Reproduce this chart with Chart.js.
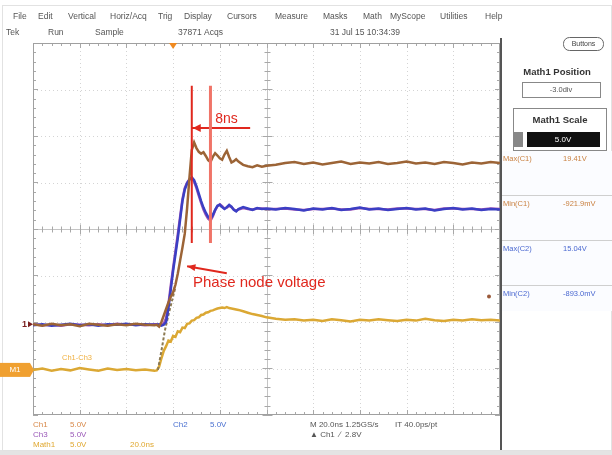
<!DOCTYPE html>
<html>
<head>
<meta charset="utf-8">
<script src="https://cdn.jsdelivr.net/npm/chart.js@4.4.0/dist/chart.umd.min.js"></script>
<style>
  html, body { margin: 0; padding: 0; background: #fff; overflow: hidden; }
</style>
</head>
<body>
<canvas id="scope" width="612" height="455"></canvas>
<script>
// Scope capture: 20 ns/div horizontally, values in divisions vertically

var timeNs = [0, 4, 8, 12, 16, 20, 24, 28, 32, 36, 40, 44, 48, 52,
  53, 54, 55, 56, 57, 58, 59, 60, 61, 62, 63, 64, 65, 66, 67, 68, 69, 70,
  71, 72, 73, 74, 75, 76, 77, 78, 79, 80, 81, 82, 83, 84, 85, 86, 87, 88,
  90, 92, 94, 96, 98, 100,
  104, 108, 112, 116, 120, 124, 128, 132, 136, 140, 144, 148, 152, 156,
  160, 164, 168, 172, 176, 180, 184, 188, 192, 196, 200];

var ch1Div = [-2.05, -2.08, -2.04, -2.07, -2.05, -2.09, -2.04, -2.06, -2.08, -2.05, -2.07, -2.04, -2.06, -2.07,
  -2.06, -2.10, -2.00, -1.86, -1.72, -1.58, -1.46, -1.36, -1.20, -0.96, -0.68, -0.40, -0.10, 0.45, 1.10, 1.70, 1.86, 1.74,
  1.66, 1.62, 1.65, 1.57, 1.48, 1.44, 1.55, 1.63, 1.58, 1.52, 1.49, 1.60, 1.68, 1.55, 1.43, 1.46, 1.50, 1.45,
  1.38, 1.35, 1.33, 1.37, 1.34, 1.36,
  1.38, 1.42, 1.44, 1.40, 1.43, 1.39, 1.42, 1.45, 1.40, 1.43, 1.41, 1.44, 1.40, 1.42,
  1.45, 1.41, 1.43, 1.40, 1.44, 1.42, 1.39, 1.43, 1.41, 1.44, 1.42];

var ch2Div = [-2.07, -2.05, -2.08, -2.06, -2.04, -2.07, -2.05, -2.08, -2.05, -2.06, -2.04, -2.07, -2.05, -2.06,
  -2.06, -2.05, -2.08, -2.06, -2.00, -1.70, -1.30, -0.90, -0.55, -0.20, 0.20, 0.60, 0.85, 0.98, 1.06, 1.11, 1.05, 0.92,
  0.76, 0.60, 0.46, 0.35, 0.26, 0.22, 0.30, 0.41, 0.50, 0.52, 0.47, 0.43, 0.47, 0.52, 0.48, 0.41, 0.38, 0.43,
  0.47, 0.44, 0.41, 0.45, 0.43, 0.44,
  0.42, 0.45, 0.43, 0.40, 0.44, 0.42, 0.45, 0.41, 0.43, 0.46, 0.42, 0.44, 0.41, 0.43,
  0.45, 0.42, 0.44, 0.40, 0.43, 0.45, 0.42, 0.44, 0.41, 0.43, 0.42];

var ch3Div = [-2.05, -2.07, -2.06, -2.08, -2.05, -2.06, -2.07, -2.05, -2.07, -2.04, -2.06, -2.05, -2.07, -2.05,
  -2.05, -2.07, -2.06, -2.03, -1.92, -1.62, -1.22, -0.84, -0.48, -0.12, 0.26, 0.64, 0.88, 1.00, 1.07, 1.10, 1.02, 0.88,
  0.72, 0.56, 0.42, 0.31, 0.22, 0.18, 0.27, 0.40, 0.49, 0.53, 0.49, 0.44, 0.46, 0.50, 0.47, 0.42, 0.39, 0.42,
  0.45, 0.43, 0.42, 0.44, 0.44, 0.43,
  0.43, 0.44, 0.42, 0.41, 0.43, 0.43, 0.44, 0.42, 0.42, 0.45, 0.43, 0.43, 0.42, 0.44,
  0.44, 0.43, 0.43, 0.41, 0.44, 0.44, 0.43, 0.43, 0.42, 0.44, 0.43];

var math1Div = [-3.03, -3.00, -3.05, -3.01, -3.04, -2.99, -3.02, -3.05, -3.00, -3.03, -3.01, -3.04, -3.02, -3.05,
  -3.04, -2.96, -2.78, -2.62, -2.52, -2.40, -2.42, -2.30, -2.32, -2.20, -2.22, -2.12, -2.13, -2.04, -2.03, -1.97, -1.96, -1.91,
  -1.90, -1.85, -1.84, -1.80, -1.79, -1.76, -1.75, -1.73, -1.71, -1.70, -1.69, -1.70, -1.68, -1.70, -1.71, -1.72, -1.73, -1.74,
  -1.77, -1.80, -1.83, -1.85, -1.87, -1.90,
  -1.93, -1.95, -1.94, -1.97, -1.95, -1.98, -1.94, -1.96, -1.99, -1.95, -1.97, -1.94, -1.96, -1.98,
  -1.95, -1.97, -1.93, -1.96, -1.98, -1.95, -1.97, -1.94, -1.96, -1.95, -1.97];

// dashed rising edge seen under the Ch1 trace
var edgeTimeNs = [53.5, 55, 56.5, 58, 59.5, 61];
var edgeDiv = [-3.03, -2.62, -2.18, -1.85, -1.55, -1.25];

// cursors and annotations
var cursorNs = [68, 76];
var cursorSpanDiv = [3.08, -0.30];
var deltaBarDiv = 2.17;
var deltaBarNs = [68, 93];
var deltaLabel = '8ns';
var phaseArrowNs = [83, 66];
var phaseArrowDiv = [-0.95, -0.80];
var phaseLabel = 'Phase node voltage';
var triggerNs = 60;

var menuItems = [['File', 13], ['Edit', 38], ['Vertical', 68], ['Horiz/Acq', 110], ['Trig', 158], ['Display', 184],
  ['Cursors', 227], ['Measure', 275], ['Masks', 323], ['Math', 363], ['MyScope', 390], ['Utilities', 440], ['Help', 485]];
var statusItems = [['Tek', 6], ['Run', 48], ['Sample', 95], ['37871 Acqs', 178], ['31 Jul 15 10:34:39', 330]];
var readouts = [['Max(C1)', '19.41V', '#c98040'], ['Min(C1)', '-921.9mV', '#c98040'],
  ['Max(C2)', '15.04V', '#4a68d0'], ['Min(C2)', '-893.0mV', '#4a68d0']];

function pts(xs, ys) {
  return xs.map(function (x, i) { return { x: x, y: ys[i] }; });
}

var FONT = "'Liberation Sans', Arial, sans-serif";

function txt(ctx, s, x, y, color, size, weight, align) {
  ctx.font = (weight || 'normal') + ' ' + size + 'px ' + FONT;
  ctx.fillStyle = color;
  ctx.textAlign = align || 'left';
  ctx.textBaseline = 'middle';
  ctx.fillText(s, x, y);
}

function roundRect(ctx, x, y, w, h, r) {
  ctx.beginPath();
  ctx.moveTo(x + r, y);
  ctx.arcTo(x + w, y, x + w, y + h, r);
  ctx.arcTo(x + w, y + h, x, y + h, r);
  ctx.arcTo(x, y + h, x, y, r);
  ctx.arcTo(x, y, x + w, y, r);
  ctx.closePath();
}

var scopeFrame = {
  id: 'scopeFrame',
  beforeDraw: function (chart) {
    var ctx = chart.ctx, a = chart.chartArea;
    var xs = chart.scales.x, ys = chart.scales.y;
    ctx.save();
    ctx.fillStyle = '#fff';
    ctx.fillRect(0, 0, chart.width, chart.height);

    // outer frame
    ctx.fillStyle = '#e4e4e4';
    ctx.fillRect(0, 450, 612, 5);
    ctx.strokeStyle = '#e2e2e2';
    ctx.lineWidth = 1;
    ctx.strokeRect(2.5, 5.5, 609, 445);

    // menu + status rows
    menuItems.forEach(function (m) { txt(ctx, m[0], m[1], 17, '#555', 8.5); });
    statusItems.forEach(function (m) { txt(ctx, m[0], m[1], 33, '#555', 8.5); });

    // dotted graticule
    ctx.strokeStyle = '#d4d4d4';
    ctx.setLineDash([1, 3]);
    for (var t = 20; t < 200; t += 20) {
      if (t === 100) continue;
      var px = Math.round(xs.getPixelForValue(t)) + 0.5;
      ctx.beginPath(); ctx.moveTo(px, a.top); ctx.lineTo(px, a.bottom); ctx.stroke();
    }
    for (var v = -3; v <= 3; v++) {
      if (v === 0) continue;
      var py = Math.round(ys.getPixelForValue(v)) + 0.5;
      ctx.beginPath(); ctx.moveTo(a.left, py); ctx.lineTo(a.right, py); ctx.stroke();
    }
    ctx.setLineDash([]);

    // center cross with minor ticks
    var cx = Math.round(xs.getPixelForValue(100)) + 0.5;
    var cy = Math.round(ys.getPixelForValue(0)) + 0.5;
    ctx.strokeStyle = '#c4c4c4';
    ctx.beginPath();
    ctx.moveTo(a.left, cy); ctx.lineTo(a.right, cy);
    ctx.moveTo(cx, a.top); ctx.lineTo(cx, a.bottom);
    ctx.stroke();
    ctx.strokeStyle = '#a8a8a8';
    ctx.beginPath();
    for (var tm = 0; tm <= 200; tm += 4) {
      var mx = Math.round(xs.getPixelForValue(tm)) + 0.5;
      var big = tm % 20 === 0 ? 5 : 3;
      ctx.moveTo(mx, cy - big); ctx.lineTo(mx, cy + big);
      ctx.moveTo(mx, a.bottom); ctx.lineTo(mx, a.bottom - big);
      ctx.moveTo(mx, a.top); ctx.lineTo(mx, a.top + big);
    }
    for (var vm = -4; vm <= 4.001; vm += 0.2) {
      var my = Math.round(ys.getPixelForValue(vm)) + 0.5;
      var bg = Math.abs(vm - Math.round(vm)) < 0.01 ? 5 : 3;
      ctx.moveTo(cx - bg, my); ctx.lineTo(cx + bg, my);
      ctx.moveTo(a.left, my); ctx.lineTo(a.left + bg, my);
      ctx.moveTo(a.right, my); ctx.lineTo(a.right - bg, my);
    }
    ctx.stroke();
    ctx.strokeStyle = '#a0a0a0';
    ctx.strokeRect(a.left + 0.5, a.top + 0.5, a.right - a.left - 1, a.bottom - a.top - 1);

    // trigger position marker
    var trx = xs.getPixelForValue(triggerNs);
    ctx.fillStyle = '#f08a20';
    ctx.beginPath();
    ctx.moveTo(trx - 4, a.top); ctx.lineTo(trx + 4, a.top); ctx.lineTo(trx, a.top + 6);
    ctx.closePath(); ctx.fill();

    // ground markers on the left
    var g1 = ys.getPixelForValue(ch1Div[0]);
    txt(ctx, '1', 22, g1, '#7a2020', 9, 'bold');
    ctx.fillStyle = '#7a2020';
    ctx.beginPath(); ctx.moveTo(28, g1 - 3); ctx.lineTo(33, g1); ctx.lineTo(28, g1 + 3); ctx.fill();
    var gm = ys.getPixelForValue(math1Div[0]);
    ctx.fillStyle = '#f0a030';
    ctx.fillRect(0, gm - 7, 30, 14);
    ctx.beginPath(); ctx.moveTo(30, gm - 7); ctx.lineTo(34, gm); ctx.lineTo(30, gm + 7); ctx.fill();
    txt(ctx, 'M1', 15, gm, '#fff', 8, 'normal', 'center');
    txt(ctx, 'Ch1-Ch3', 62, ys.getPixelForValue(-2.78), '#f0b040', 7.5);

    // right marker dot
    ctx.fillStyle = '#9a5a3a';
    ctx.beginPath(); ctx.arc(489, ys.getPixelForValue(-1.45), 2, 0, Math.PI * 2); ctx.fill();

    // side panel
    ctx.fillStyle = '#555';
    ctx.fillRect(500, 38, 2, 412);
    ctx.strokeStyle = '#666';
    roundRect(ctx, 563.5, 37.5, 40, 13, 6); ctx.stroke();
    txt(ctx, 'Buttons', 583.5, 44, '#444', 7, 'normal', 'center');
    txt(ctx, 'Math1 Position', 557, 72, '#333', 9.5, 'bold', 'center');
    ctx.strokeStyle = '#888';
    ctx.strokeRect(522.5, 82.5, 78, 15);
    txt(ctx, '-3.0div', 561, 90, '#555', 7.5, 'normal', 'center');
    ctx.strokeRect(513.5, 108.5, 93, 42);
    txt(ctx, 'Math1 Scale', 560, 120, '#333', 9.5, 'bold', 'center');
    ctx.fillStyle = '#888';
    ctx.fillRect(514, 132, 9, 15);
    ctx.fillStyle = '#111';
    ctx.fillRect(527, 132, 73, 15);
    txt(ctx, '5.0V', 563, 139.5, '#fff', 8, 'normal', 'center');
    ctx.fillStyle = '#fbfcff';
    ctx.fillRect(502, 151, 110, 160);
    ctx.strokeStyle = '#cfcfcf';
    [195.5, 240.5, 285.5].forEach(function (y) {
      ctx.beginPath(); ctx.moveTo(502, y); ctx.lineTo(612, y); ctx.stroke();
    });
    readouts.forEach(function (r, i) {
      var y = 159 + i * 45;
      txt(ctx, r[0], 503, y, r[2], 7.5);
      txt(ctx, r[1], 563, y, r[2], 7.5);
    });

    // bottom channel settings
    txt(ctx, 'Ch1', 33, 425, '#d8894a', 8);
    txt(ctx, '5.0V', 70, 425, '#d8894a', 8);
    txt(ctx, 'Ch3', 33, 435, '#9a58b8', 8);
    txt(ctx, '5.0V', 70, 435, '#9a58b8', 8);
    txt(ctx, 'Math1', 33, 445, '#e0a830', 8);
    txt(ctx, '5.0V', 70, 445, '#e0a830', 8);
    txt(ctx, '20.0ns', 130, 445, '#e0a830', 8);
    txt(ctx, 'Ch2', 173, 425, '#4a70d0', 8);
    txt(ctx, '5.0V', 210, 425, '#4a70d0', 8);
    txt(ctx, 'M 20.0ns 1.25GS/s', 310, 425, '#555', 8);
    txt(ctx, 'IT 40.0ps/pt', 395, 425, '#555', 8);
    txt(ctx, '\u25B2 Ch1  \u2215  2.8V', 310, 435, '#555', 8);
    ctx.restore();
  },
  afterDatasetsDraw: function (chart) {
    var ctx = chart.ctx;
    var xs = chart.scales.x, ys = chart.scales.y;
    ctx.save();
    ctx.fillStyle = '#e0281e';
    // delta bar arrowhead
    var ax = xs.getPixelForValue(deltaBarNs[0]), ay = ys.getPixelForValue(deltaBarDiv);
    ctx.beginPath(); ctx.moveTo(ax + 1, ay); ctx.lineTo(ax + 9, ay - 4); ctx.lineTo(ax + 9, ay + 4); ctx.fill();
    txt(ctx, deltaLabel, xs.getPixelForValue(78), ys.getPixelForValue(2.37), '#e0281e', 14);
    // phase arrow head
    var hx = xs.getPixelForValue(phaseArrowNs[1]), hy = ys.getPixelForValue(phaseArrowDiv[1]);
    var tx = xs.getPixelForValue(phaseArrowNs[0]), ty = ys.getPixelForValue(phaseArrowDiv[0]);
    var ang = Math.atan2(hy - ty, hx - tx);
    ctx.beginPath();
    ctx.moveTo(hx, hy);
    ctx.lineTo(hx - 9 * Math.cos(ang - 0.4), hy - 9 * Math.sin(ang - 0.4));
    ctx.lineTo(hx - 9 * Math.cos(ang + 0.4), hy - 9 * Math.sin(ang + 0.4));
    ctx.fill();
    txt(ctx, phaseLabel, xs.getPixelForValue(68.5), ys.getPixelForValue(-1.15), '#e0281e', 15);
    ctx.restore();
  }
};

var scope = document.getElementById('scope').getContext('2d');
var chart = new Chart(scope, {
  type: 'line',
  data: {
    datasets: [
      { label: 'Cursor a', data: pts([cursorNs[0], cursorNs[0]], cursorSpanDiv), borderColor: '#e0281e', borderWidth: 2 },
      { label: 'Cursor b', data: pts([cursorNs[1], cursorNs[1]], cursorSpanDiv), borderColor: '#f07468', borderWidth: 3 },
      { label: 'Delta', data: pts(deltaBarNs, [deltaBarDiv, deltaBarDiv]), borderColor: '#e0281e', borderWidth: 2 },
      { label: 'Phase arrow', data: pts(phaseArrowNs, phaseArrowDiv), borderColor: '#e0281e', borderWidth: 2 },
      { label: 'Ch1', data: pts(timeNs, ch1Div), borderColor: '#9c6436', borderWidth: 2.5 },
      { label: 'Ch2', data: pts(timeNs, ch2Div), borderColor: '#3b3fc4', borderWidth: 2.5 },
      { label: 'Ch3', data: pts(timeNs, ch3Div), borderColor: '#a052b4', borderWidth: 2.5 },
      { label: 'Ch1 edge', data: pts(edgeTimeNs, edgeDiv), borderColor: '#8c7a52', borderWidth: 2, borderDash: [3, 2] },
      { label: 'Math1', data: pts(timeNs, math1Div), borderColor: '#dba834', borderWidth: 2.5 }
    ]
  },
  options: {
    responsive: false,
    animation: false,
    layout: { padding: { left: 33, top: 43, right: 112, bottom: 40 } },
    elements: { point: { radius: 0 }, line: { tension: 0 } },
    plugins: { legend: { display: false }, tooltip: { enabled: false } },
    scales: {
      x: { type: 'linear', min: 0, max: 200, display: false },
      y: { min: -4, max: 4, display: false }
    }
  },
  plugins: [scopeFrame]
});
</script>
</body>
</html>
